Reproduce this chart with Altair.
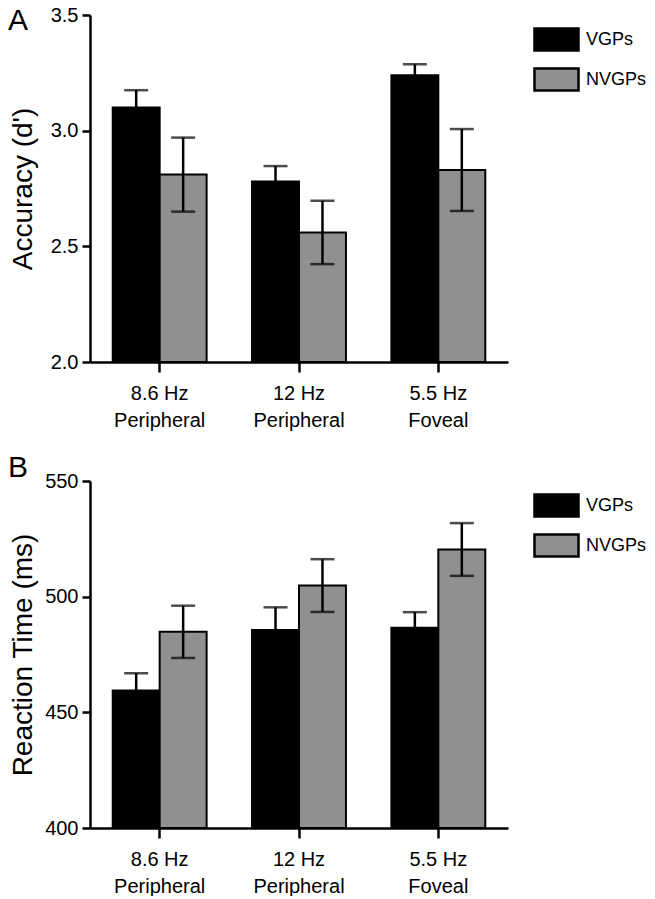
import altair as alt
import pandas as pd

categories = ["8.6 Hz|Peripheral", "12 Hz|Peripheral", "5.5 Hz|Foveal"]
groups = ["VGPs", "NVGPs"]
colors = ["#000000", "#909090"]

acc_vgp = [3.10, 2.78, 3.24]
acc_vgp_err = [0.075, 0.067, 0.047]
acc_nvgp = [2.81, 2.56, 2.83]
acc_nvgp_err = [0.16, 0.137, 0.177]

rt_vgp = [459.4, 485.6, 486.6]
rt_vgp_err = [7.5, 9.8, 6.7]
rt_nvgp = [484.8, 504.8, 520.4]
rt_nvgp_err = [11.3, 11.4, 11.4]

acc_ticks = [2.0, 2.5, 3.0, 3.5]
rt_ticks = [400, 450, 500, 550]

panel_letters = ["A", "B"]

FONT = "Liberation Sans"


def make_df(vgp, vgp_err, nvgp, nvgp_err):
    rows = []
    for i, c in enumerate(categories):
        rows.append({"cond": c, "group": "VGPs", "value": vgp[i],
                     "lo": vgp[i] - vgp_err[i], "hi": vgp[i] + vgp_err[i]})
        rows.append({"cond": c, "group": "NVGPs", "value": nvgp[i],
                     "lo": nvgp[i] - nvgp_err[i], "hi": nvgp[i] + nvgp_err[i]})
    return pd.DataFrame(rows)


def panel(df, ticks, fmt, ytitle, title_pad, letter, letter_y):
    ymin, ymax = ticks[0], ticks[-1]
    x = alt.X("cond:N", sort=categories,
              scale=alt.Scale(paddingInner=0.326, paddingOuter=0.163),
              axis=alt.Axis(title=None, labelExpr="split(datum.label, '|')",
                            labelAngle=0, labelFontSize=20, labelLineHeight=27,
                            labelFont=FONT, labelColor="black", labelPadding=11,
                            labelBaseline="top",
                            tickSize=10, tickWidth=2.5, tickColor="black",
                            domainWidth=2.5, domainColor="black"))
    xo = alt.XOffset("group:N", sort=groups,
                     scale=alt.Scale(paddingInner=0, paddingOuter=0))
    yscale = alt.Scale(domain=[ymin, ymax], nice=False, zero=False)
    yaxis = alt.Axis(title=ytitle, values=ticks, format=fmt,
                     labelFontSize=20, labelFont=FONT, labelColor="black",
                     labelPadding=4,
                     titleFontSize=28, titleFont=FONT, titleFontWeight="normal",
                     titleColor="black", titlePadding=title_pad,
                     tickSize=8, tickWidth=2.5, tickColor="black",
                     domainWidth=2.5, domainColor="black", grid=False)
    base = alt.Chart(df)
    bars = base.mark_bar(stroke="black", strokeWidth=2).encode(
        x=x, xOffset=xo,
        y=alt.Y("value:Q", scale=yscale, axis=yaxis),
        y2=alt.datum(ymin),
        color=alt.Color("group:N", sort=groups,
                        scale=alt.Scale(domain=groups, range=colors),
                        legend=alt.Legend(title=None, orient="none",
                                          legendX=443, legendY=1,
                                          symbolType="M-1,-0.5H1V0.5H-1Z",
                                          symbolSize=1936,
                                          symbolStrokeColor="black",
                                          symbolStrokeWidth=2.5,
                                          symbolOpacity=1,
                                          labelFontSize=18, labelFont=FONT,
                                          labelColor="black", labelOffset=6,
                                          rowPadding=-2, padding=0)),
    )
    rules = base.mark_rule(color="black", strokeWidth=2.5).encode(
        x=x, xOffset=xo, y="lo:Q", y2="hi:Q")
    caps_hi = base.mark_tick(color="black", thickness=2.5, size=24,
                             orient="horizontal").encode(x=x, xOffset=xo, y="hi:Q")
    caps_lo = base.mark_tick(color="black", thickness=2.5, size=24,
                             orient="horizontal").encode(x=x, xOffset=xo, y="lo:Q")
    label = alt.Chart(pd.DataFrame({"t": [letter]})).mark_text(
        align="left", baseline="alphabetic", fontSize=30, font=FONT,
        color="black").encode(text="t:N", x=alt.value(-82), y=alt.value(letter_y))
    return alt.layer(bars, rules, caps_hi, caps_lo, label).properties(
        width=418, height=347)


top = panel(make_df(acc_vgp, acc_vgp_err, acc_nvgp, acc_nvgp_err),
            acc_ticks, ".1f", "Accuracy (d')", 13, panel_letters[0], 15)
bottom = panel(make_df(rt_vgp, rt_vgp_err, rt_nvgp, rt_nvgp_err),
               rt_ticks, "d", "Reaction Time (ms)", 7, panel_letters[1], -4)

chart = alt.vconcat(top, bottom, spacing=119, bounds="flush").resolve_scale(
    color="independent", y="independent", x="independent"
).resolve_legend(color="independent").properties(
    padding={"left": 0, "top": -3, "right": -1, "bottom": 0}
).configure_view(stroke=None)

chart.save("out.html", embed_options={"renderer": "svg", "actions": False})
